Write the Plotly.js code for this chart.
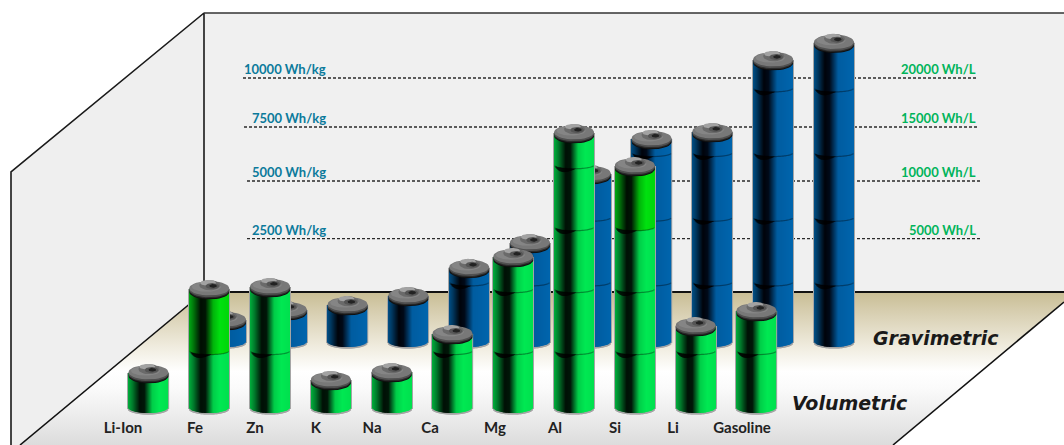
<!DOCTYPE html>
<html><head><meta charset="utf-8">
<script src="https://cdn.plot.ly/plotly-3.0.1.min.js"></script>
<style>html,body{margin:0;padding:0;background:#fff}</style></head>
<body><div id="chart" style="width:1064px;height:445px"></div>
<script>
// ---- data ----
const categories = ['Li-Ion','Fe','Zn','K','Na','Ca','Mg','Al','Si','Li','Gasoline'];
const volumetricWhL = [3680,11400,11590,3040,3770,7270,14350,25760,22720,8000,9380];
const gravimetricWhKg = [1240,1700,1930,2350,3640,4780,7960,9570,9890,13200,14000];
const wallKgLabels = ['2500 Wh/kg','5000 Wh/kg','7500 Wh/kg','10000 Wh/kg'];
const wallLLabels = ['5000 Wh/L','10000 Wh/L','15000 Wh/L','20000 Wh/L'];
const wallLevelsKg = [2500,5150,7635,9890];   // where the dashed lines sit on the drawn wall
const segmentL = 5700, segmentKg = 2975;      // one battery cell on each scale
const pureGreenTop = ['Fe','Si'];

// ---- scales (px per unit; baselines in page px) ----
const W=1064,H=445, SP=60.8;
const pxPerL=0.01087, pxPerKg=0.02174;
const y0L=413, y0Kg=347, y0Wall=293;
const x0Green=148.5, x0Blue=226;
const labelPx=[123,195,255,316,372,430,495,555,615,673,742];
const wallStart=[247,247,244,243], wallEnd=[981,981,978,977];
const range=(y0,p)=>[(y0-H)/p, y0/p];

function lerpStops(stops,t){
  for(let i=1;i<stops.length;i++){ if(t<=stops[i][0]){
    const a=stops[i-1],b=stops[i],f=(t-a[0])/(b[0]-a[0]);
    return 'rgb('+[0,1,2].map(k=>Math.round(a[1][k]+(b[1][k]-a[1][k])*f)).join(',')+')';
  }}
  const l=stops[stops.length-1][1]; return 'rgb('+l.join(',')+')';
}
const greenStops=[[0,[0,175,60]],[.12,[0,120,42]],[.3,[0,16,5]],[.42,[0,22,8]],[.62,[0,205,72]],[.8,[0,232,82]],[1,[0,225,78]]];
const pureStops=[[0,[0,170,20]],[.12,[0,115,10]],[.3,[0,14,2]],[.42,[0,22,3]],[.62,[0,180,10]],[.8,[0,225,15]],[1,[0,215,10]]];
const blueStops=[[0,[0,80,135]],[.1,[0,55,95]],[.28,[0,3,10]],[.4,[0,10,25]],[.62,[0,92,160]],[1,[0,100,172]]];

function cylinders(values,segment,ppu,stops,xa,ya,ppx){
  const traces=[];
  const mk=()=>({x:[],y:[],base:[],color:[]});
  const halo=mk(), body=mk(), pure=mk(), seam=mk(), line=mk();
  const layers=[['r1','#101010'],['r2','#2a2a2a'],['r3','#505050'],['top','#787878'],['top2','#858585'],['bump','#6a6a6a'],['hi','#a2a2a2'],['mid','#555555'],['dark','#222222']];
  const capT={}; layers.forEach(l=>capT[l[0]]=[[],[]]);
  const ell=(tr,i,v,dx,dy,rx,ry)=>{
    for(let a=0;a<=36;a++){const t=a/36*2*Math.PI;
      tr[0].push(i+(dx+rx*Math.cos(t))/ppx); tr[1].push(v+(dy+ry*Math.sin(t))/ppu);}
    tr[0].push(null);tr[1].push(null);
  };
  values.forEach((v,i)=>{
    const isPure=stops===greenStops && pureGreenTop.includes(categories[i]);
    const seams=[]; for(let s=segment;s<v-10/ppu;s+=segment) seams.push(s);
    const topSeam=seams.length?seams[seams.length-1]:0;
    for(let px=-20;px<=20;px++){
      const u=Math.min(1,Math.abs(px)/20), sq=Math.sqrt(1-u*u);
      const bh=(1-sq)*5.5/ppu;
      halo.x.push(i+px/ppx);halo.base.push(bh-1.6/ppu);halo.y.push(v-bh+1.6/ppu);halo.color.push('rgb(165,165,165)');
    }
    for(let px=-19;px<=19;px++){
      const u=Math.abs(px)/19.5, sq=Math.sqrt(1-u*u), t=(px+19.5)/39;
      const bh=(1-sq)*5.5/ppu;
      body.x.push(i+px/ppx);body.base.push(bh);body.y.push(v-bh);body.color.push(lerpStops(stops,t));
      if(isPure){
        const sy=topSeam-sq*3.5/ppu;
        pure.x.push(i+px/ppx);pure.base.push(sy);pure.y.push(v-sy);pure.color.push(lerpStops(pureStops,t));
      }
      seams.forEach(s=>{
        const sy=s-sq*3.5/ppu;
        line.x.push(i+px/ppx);line.base.push(sy-0.7/ppu);line.y.push(1.2/ppu);line.color.push('rgba(0,0,0,0.3)');
        const th=t<.02||t>.55?0:4*Math.sin(Math.PI*Math.pow((t-.02)/.53,0.7));
        if(th>0.3){seam.x.push(i+px/ppx);seam.base.push(sy-th/ppu);seam.y.push(th/ppu);seam.color.push('rgba(0,0,0,0.85)');}
      });
    }
    ell(capT.r1,i,v,0,-3,20,7.4);
    ell(capT.r2,i,v,0,-1.8,20,7.6);
    ell(capT.r3,i,v,0,-0.6,20.2,7.6);
    ell(capT.top,i,v,0,0.8,20,7.2);
    ell(capT.top2,i,v,-3,2.2,14.5,4.8);
    ell(capT.bump,i,v,0.5,3.8,10.5,5);
    ell(capT.hi,i,v,-1.2,6.2,8,2.8);
    ell(capT.mid,i,v,3,3,6.8,3);
    ell(capT.dark,i,v,3.8,3.2,3.8,1.8);
  });
  const bw=1.3/ppx;
  const bar=(d)=>({type:'bar',x:d.x,y:d.y,base:d.base,width:bw,opacity:1,xaxis:xa,yaxis:ya,marker:{color:d.color,opacity:1,line:{width:0}},hoverinfo:'skip'});
  traces.push(bar(halo),bar(body));
  if(pure.x.length) traces.push(bar(pure));
  traces.push(bar(line),bar(seam));
  layers.forEach(([k,c])=>traces.push({type:'scatter',mode:'lines',x:capT[k][0],y:capT[k][1],fill:'toself',fillcolor:c,line:{width:0,color:c},xaxis:xa,yaxis:ya,hoverinfo:'skip',connectgaps:false}));
  return traces;
}

// ---- room, drawn on a page-pixel axis pair ----
const room=[];
const poly=(xs,ys,fill,extra)=>Object.assign({type:'scatter',mode:'lines',x:xs,y:ys,fill:'toself',fillcolor:fill,line:{width:0},hoverinfo:'skip'},extra||{});
room.push(poly([11,204,204,20,11,11],[172,13,292,445,445,172],'#efefef'));
room.push(poly([204,1064,1064,204,204],[13,13,292,292,13],'#f0f0f0'));
room.push(poly([204,1064,1064,893,20,204],[292,292,302,445,445,292],'#fff',{
  fillgradient:{type:'vertical',start:292,stop:445,colorscale:[[0,'#c8bd94'],[.12,'#d6cdae'],[.35,'#efebdd'],[.52,'#ffffff'],[.62,'#fbfbfb'],[.8,'#ededed'],[1,'#dcdcdc']]}}));
const seg=(xs,ys,w,c)=>({type:'scatter',mode:'lines',x:xs,y:ys,line:{width:w,color:c},hoverinfo:'skip'});
room.push(seg([11,11,204,204],[445,172,13,292],1.6,'#1a1a1a'));
room.push(seg([204,1064],[13,13],1.4,'#333'));
room.push(seg([204,1064],[292,292],2,'#111'));
room.push(seg([204,20],[292,445],1.6,'#111'));
room.push(seg([1064,893],[302,445],1.6,'#111'));

// ---- dashed wall lines on the Wh/kg wall scale ----
const wall=wallLevelsKg.map((lv,i)=>({type:'scatter',mode:'lines',x:[wallStart[i],wallEnd[i]],y:[lv,lv],yaxis:'y2',
  line:{width:1.4,color:'#2a2a2a',dash:'3px,2px'},hoverinfo:'skip'}));

const blue=cylinders(gravimetricWhKg,segmentKg,pxPerKg,blueStops,'x2','y3',SP);
const green=cylinders(volumetricWhL,segmentL,pxPerL,greenStops,'x3','y4',SP);

const labelFont='Lato, "Open Sans", sans-serif';
const ann=[];
wallKgLabels.forEach((t,i)=>ann.push({text:t,x:328,y:wallLevelsKg[i],xref:'x',yref:'y2',xanchor:'right',yanchor:'bottom',yshift:-1,showarrow:false,
  font:{family:labelFont,size:13,color:'#0b7a9b',weight:700}}));
wallLLabels.forEach((t,i)=>ann.push({text:t,x:978,y:wallLevelsKg[i],xref:'x',yref:'y2',xanchor:'right',yanchor:'bottom',yshift:-1,showarrow:false,
  font:{family:labelFont,size:13,color:'#00b45a',weight:700}}));
ann.push({text:'Gravimetric',x:936,y:338,xref:'x',yref:'y',showarrow:false,font:{family:'"DejaVu Sans"',size:19,style:'italic',weight:700,color:'#1a1a1a'}});
ann.push({text:'Volumetric',x:850,y:403,xref:'x',yref:'y',showarrow:false,font:{family:'"DejaVu Sans"',size:19,style:'italic',weight:700,color:'#1a1a1a'}});

const hidden={visible:false,fixedrange:true};
const layout={width:W,height:H,margin:{l:0,r:0,t:0,b:0},paper_bgcolor:'#fff',plot_bgcolor:'rgba(0,0,0,0)',showlegend:false,hovermode:false,barmode:'overlay',
  annotations:ann,
  xaxis:Object.assign({},hidden,{range:[0,W]}),
  yaxis:Object.assign({},hidden,{range:[H,0]}),
  yaxis2:Object.assign({},hidden,{overlaying:'y',range:range(y0Wall,pxPerKg)}),
  xaxis2:Object.assign({},hidden,{overlaying:'x',range:[-x0Blue/SP,(W-x0Blue)/SP]}),
  yaxis3:Object.assign({},hidden,{overlaying:'y',range:range(y0Kg,pxPerKg)}),
  xaxis3:{overlaying:'x',range:[-x0Green/SP,(W-x0Green)/SP],fixedrange:true,anchor:'free',position:(H-417)/H,showgrid:false,zeroline:false,showline:false,ticks:'',
    tickmode:'array',tickvals:labelPx.map(p=>(p-x0Green)/SP),ticktext:categories,tickangle:0,
    tickfont:{family:labelFont,size:15,color:'#222',weight:700}},
  yaxis4:Object.assign({},hidden,{overlaying:'y',range:range(y0L,pxPerL)})
};
Plotly.newPlot('chart',[...room,...wall,...blue,...green],layout,{displayModeBar:false});
</script></body></html>
